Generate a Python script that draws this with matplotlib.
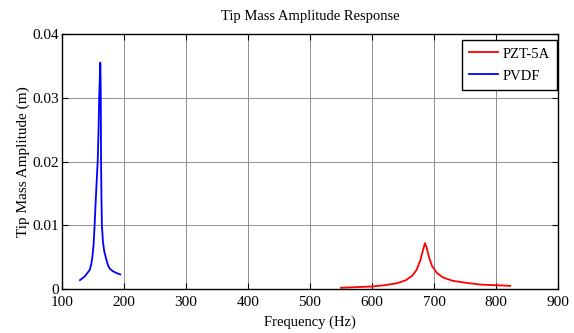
import matplotlib
matplotlib.use("Agg")
import matplotlib.pyplot as plt

# PVDF curve
freq_pvdf = [129, 137, 144.7, 147, 149, 151, 152.6, 154.5, 156, 157.6, 159, 160, 161, 161.8, 162.3, 162.6, 163, 163.7, 164.4, 166, 168, 170.5, 174, 177, 182, 188, 194]
amp_pvdf = [0.0014, 0.0020, 0.0030, 0.0038, 0.0050, 0.0070, 0.0100, 0.0140, 0.0170, 0.0200, 0.0250, 0.0300, 0.0330, 0.0355, 0.0330, 0.0300, 0.0200, 0.0140, 0.0100, 0.0075, 0.0060, 0.0050, 0.0038, 0.0032, 0.0028, 0.0025, 0.0023]

# PZT-5A curve
freq_pzt = [550, 575, 600, 620, 640, 655, 665, 672, 678, 682, 685.5, 688, 692, 697, 705, 715, 730, 750, 775, 800, 823]
amp_pzt = [0.0002, 0.0003, 0.0004, 0.0006, 0.0009, 0.0014, 0.0021, 0.0030, 0.0045, 0.0060, 0.0072, 0.0066, 0.0050, 0.0036, 0.0025, 0.0018, 0.0013, 0.0010, 0.0007, 0.0006, 0.0005]

plt.rcParams["font.family"] = "Liberation Serif"

fig = plt.figure(figsize=(5.74, 3.33), dpi=100)
ax = fig.add_axes([0.108, 0.132, 0.864, 0.766])

ax.plot(freq_pzt, amp_pzt, color="red", linewidth=1.3, label="PZT-5A")
ax.plot(freq_pvdf, amp_pvdf, color="blue", linewidth=1.3, label="PVDF")

ax.set_xlim(100, 900)
ax.set_ylim(0, 0.04)
ax.set_xticks(range(100, 901, 100))
ax.set_yticks([0, 0.01, 0.02, 0.03, 0.04])
ax.set_yticklabels(["0", "0.01", "0.02", "0.03", "0.04"])
ax.tick_params(direction="in", top=True, right=True, labelsize=11, length=4)
ax.tick_params(axis="x", pad=5)
ax.tick_params(axis="y", pad=2)
ax.grid(True, color="#808080", linewidth=0.6)
for s in ax.spines.values():
    s.set_linewidth(1.0)

ax.set_title("Tip Mass Amplitude Response", fontsize=10.5, pad=10)
ax.set_xlabel("Frequency (Hz)", fontsize=10.5, labelpad=5)
ax.set_ylabel("Tip Mass Amplitude (m)", fontsize=11, labelpad=2)

leg = ax.legend(loc="upper right", bbox_to_anchor=(0.998, 0.976), borderaxespad=0,
                fontsize=10.5, fancybox=False, edgecolor="black", framealpha=1,
                handlelength=2.0, handletextpad=0.3, labelspacing=0.6, borderpad=0.5)
leg.get_frame().set_linewidth(1.0)

plt.savefig("out.png", dpi=100)
plt.close()
